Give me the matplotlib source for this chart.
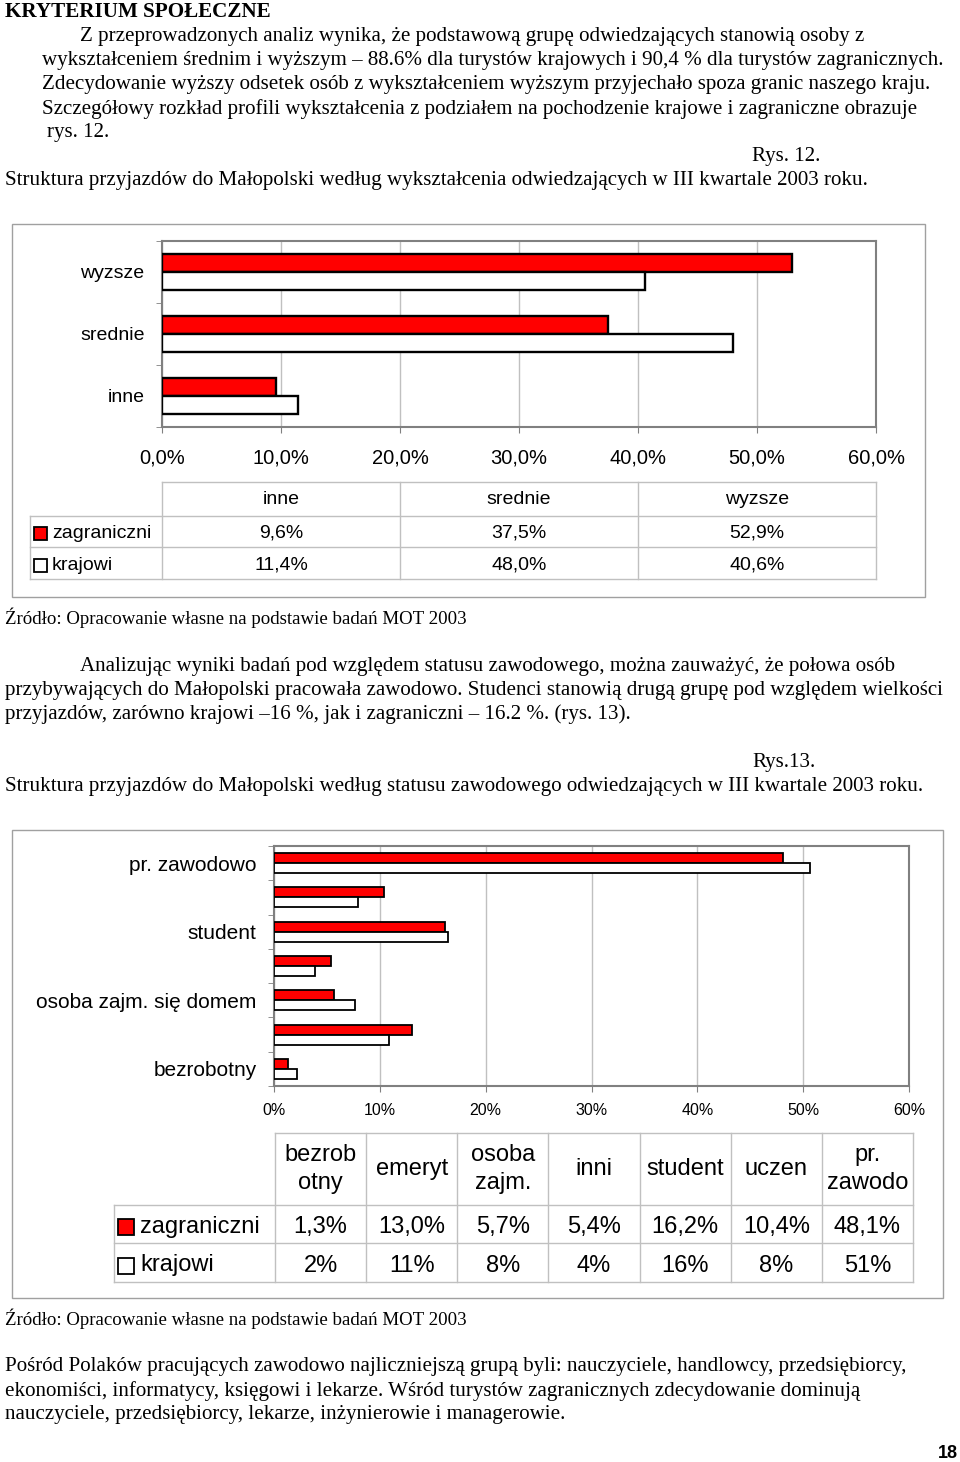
import matplotlib
matplotlib.use('Agg')
import matplotlib.pyplot as plt
from matplotlib.patches import Rectangle
import numpy as np

W, H = 960, 1462

# ---------------- data ----------------
series_names = ['zagraniczni', 'krajowi']

edu_categories = ['inne', 'srednie', 'wyzsze']
edu_zagraniczni = [9.6, 37.5, 52.9]
edu_krajowi = [11.4, 48.0, 40.6]
edu_xticks = [0, 10, 20, 30, 40, 50, 60]

status_categories = ['bezrobotny', 'emeryt', 'osoba zajm. się domem', 'inni',
                     'student', 'uczen', 'pr. zawodowo']
status_axis_labels = ['bezrobotny', '', 'osoba zajm. się domem', '',
                      'student', '', 'pr. zawodowo']
status_table_headers = ['bezrob\notny', 'emeryt', 'osoba\nzajm.', 'inni',
                        'student', 'uczen', 'pr.\nzawodo']
status_zagraniczni = [1.3, 13.0, 5.7, 5.4, 16.2, 10.4, 48.1]
status_krajowi = [2.2, 10.9, 7.7, 3.9, 16.4, 7.9, 50.6]
status_xticks = [0, 10, 20, 30, 40, 50, 60]

SERIF = 'Liberation Serif'
SANS = 'Liberation Sans'
RED = '#ff0000'

fig = plt.figure(figsize=(W / 100, H / 100), dpi=100)
fig.patch.set_facecolor('white')
page = fig.add_axes([0, 0, 1, 1])
page.set_xlim(0, W)
page.set_ylim(H, 0)
page.axis('off')

fig.canvas.draw()
renderer = fig.canvas.get_renderer()


def fit_size(text, width, family, weight='normal'):
    t = page.text(0, 0, text, fontsize=10, family=family, weight=weight)
    w = t.get_window_extent(renderer).width
    t.remove()
    return 10 * width / w


body_fs = fit_size('Struktura przyjazdów do Małopolski według wykształcenia '
                   'odwiedzających w III kwartale 2003 roku.', 861, SERIF)
src_fs = fit_size('Źródło: Opracowanie własne na podstawie badań MOT 2003', 462, SERIF)
title_fs = fit_size('KRYTERIUM SPOŁECZNE', 265, SERIF, 'bold')

body_lines = [
    (80, 36, 'Z przeprowadzonych analiz wynika, że podstawową grupę odwiedzających stanowią osoby z'),
    (42, 60, 'wykształceniem średnim i wyższym – 88.6% dla turystów krajowych i 90,4 % dla turystów zagranicznych.'),
    (42, 85, 'Zdecydowanie wyższy odsetek osób z wykształceniem wyższym przyjechało spoza granic naszego kraju.'),
    (42, 109, 'Szczegółowy rozkład profili wykształcenia z podziałem na pochodzenie krajowe i zagraniczne obrazuje'),
    (47, 133, 'rys. 12.'),
    (752, 157, 'Rys. 12.'),
    (5, 181, 'Struktura przyjazdów do Małopolski według wykształcenia odwiedzających w III kwartale 2003 roku.'),
    (80, 666, 'Analizując wyniki badań pod względem statusu zawodowego, można zauważyć, że połowa osób'),
    (5, 690, 'przybywających do Małopolski pracowała zawodowo. Studenci stanowią drugą grupę pod względem wielkości'),
    (5, 714, 'przyjazdów, zarówno krajowi –16 %, jak i zagraniczni – 16.2 %. (rys. 13).'),
    (752, 763, 'Rys.13.'),
    (5, 787, 'Struktura przyjazdów do Małopolski według statusu zawodowego odwiedzających w III kwartale 2003 roku.'),
    (5, 1367, 'Pośród Polaków pracujących zawodowo najliczniejszą grupą byli: nauczyciele, handlowcy, przedsiębiorcy,'),
    (5, 1391, 'ekonomiści, informatycy, księgowi i lekarze. Wśród turystów zagranicznych zdecydowanie dominują'),
    (5, 1415, 'nauczyciele, przedsiębiorcy, lekarze, inżynierowie i managerowie.'),
]
source_lines = [
    (5, 618, 'Źródło: Opracowanie własne na podstawie badań MOT 2003'),
    (5, 1319, 'Źródło: Opracowanie własne na podstawie badań MOT 2003'),
]

page.text(5, 12, 'KRYTERIUM SPOŁECZNE', fontsize=title_fs, family=SERIF,
          weight='bold', va='center', ha='left')
for x, y, s in body_lines:
    page.text(x, y, s, fontsize=body_fs, family=SERIF, va='center', ha='left')
for x, y, s in source_lines:
    page.text(x, y, s, fontsize=src_fs, family=SERIF, va='center', ha='left')
page.text(958, 1454, '18', fontsize=13, family=SANS, weight='bold',
          va='center', ha='right')

# outer chart frames
page.add_patch(Rectangle((12, 224), 913, 373, fill=False, edgecolor='#a0a0a0', lw=1))
page.add_patch(Rectangle((12, 830), 931, 468, fill=False, edgecolor='#a0a0a0', lw=1))


def bar_chart(rect, labels, zag, kra, xticks, fmt, label_fs, tick_fs, lw, xpad):
    l, t, r, b = rect
    ax = fig.add_axes([l / W, 1 - b / H, (r - l) / W, (b - t) / H])
    y = np.arange(len(labels))
    h = 0.29
    ax.barh(y + h / 2, zag, height=h, color=RED, edgecolor='black', linewidth=lw, zorder=3)
    ax.barh(y - h / 2, kra, height=h, color='white', edgecolor='black', linewidth=lw, zorder=3)
    ax.set_ylim(-0.5, len(labels) - 0.5)
    ax.set_xlim(xticks[0], xticks[-1])
    ax.set_xticks(xticks)
    ax.set_xticklabels([fmt(v) for v in xticks], family=SANS, fontsize=tick_fs)
    ax.set_yticks(y)
    ax.set_yticklabels(labels, family=SANS, fontsize=label_fs)
    ax.set_yticks(np.arange(len(labels) + 1) - 0.5, minor=True)
    ax.tick_params(axis='y', which='major', length=0, pad=12.5)
    ax.tick_params(axis='y', which='minor', length=4, color='#808080', direction='out')
    ax.tick_params(axis='x', length=4, color='#808080', pad=xpad)
    ax.grid(axis='x', color='#c0c0c0', linewidth=1, zorder=0)
    ax.set_axisbelow(True)
    for s in ax.spines.values():
        s.set_color('#808080')
        s.set_linewidth(1.5)
    return ax


bar_chart((162, 241, 876, 427), edu_categories, edu_zagraniczni, edu_krajowi,
          edu_xticks, lambda v: f'{v:.1f}%'.replace('.', ','), 14, 14.5, 1.7, 11.5)
bar_chart((274, 846, 909, 1086), status_axis_labels, status_zagraniczni, status_krajowi,
          status_xticks, lambda v: f'{v:.0f}%', 15, 11.5, 1.3, 8)


def data_table(legend_left, col_edges, row_edges, headers, rows, row_labels, fs, sq,
               txt_x, dy, hdy):
    gc = '#c0c0c0'
    x0, x1 = col_edges[0], col_edges[-1]
    page.plot([x0, x1], [row_edges[0]] * 2, color=gc, lw=1)
    for ry in row_edges[1:]:
        page.plot([legend_left, x1], [ry] * 2, color=gc, lw=1)
    for cx in col_edges:
        page.plot([cx, cx], [row_edges[0], row_edges[-1]], color=gc, lw=1)
    page.plot([legend_left, legend_left], [row_edges[1], row_edges[-1]], color=gc, lw=1)
    centers = [(col_edges[i] + col_edges[i + 1]) / 2 for i in range(len(headers))]
    hy = (row_edges[0] + row_edges[1]) / 2 + hdy
    for cx, hd in zip(centers, headers):
        page.text(cx, hy, hd, ha='center', va='center', fontsize=fs, family=SANS,
                  linespacing=1.4)
    colors = [RED, 'white']
    for i, (vals, name) in enumerate(zip(rows, row_labels)):
        ry = (row_edges[i + 1] + row_edges[i + 2]) / 2
        page.add_patch(Rectangle((legend_left + 4, ry + dy - sq / 2), sq, sq,
                                 facecolor=colors[i], edgecolor='black', lw=1.3))
        page.text(txt_x, ry + dy, name, ha='left', va='center', fontsize=fs, family=SANS)
        for cx, v in zip(centers, vals):
            page.text(cx, ry + dy, v, ha='center', va='center', fontsize=fs, family=SANS)


data_table(30, np.linspace(162, 876, 4), [482, 516, 547, 579], edu_categories,
           [[f'{v:.1f}%'.replace('.', ',') for v in edu_zagraniczni],
            [f'{v:.1f}%'.replace('.', ',') for v in edu_krajowi]],
           series_names, 14, 13, 52, 2, 0)

data_table(114, np.linspace(275, 913, 8), [1133, 1205, 1243, 1282], status_table_headers,
           [[f'{v:.1f}%'.replace('.', ',') for v in status_zagraniczni],
            [f'{round(v):d}%' for v in status_krajowi]],
           series_names, 17, 16, 140, 3, 0)

fig.savefig('out.png', dpi=100, facecolor='white')
